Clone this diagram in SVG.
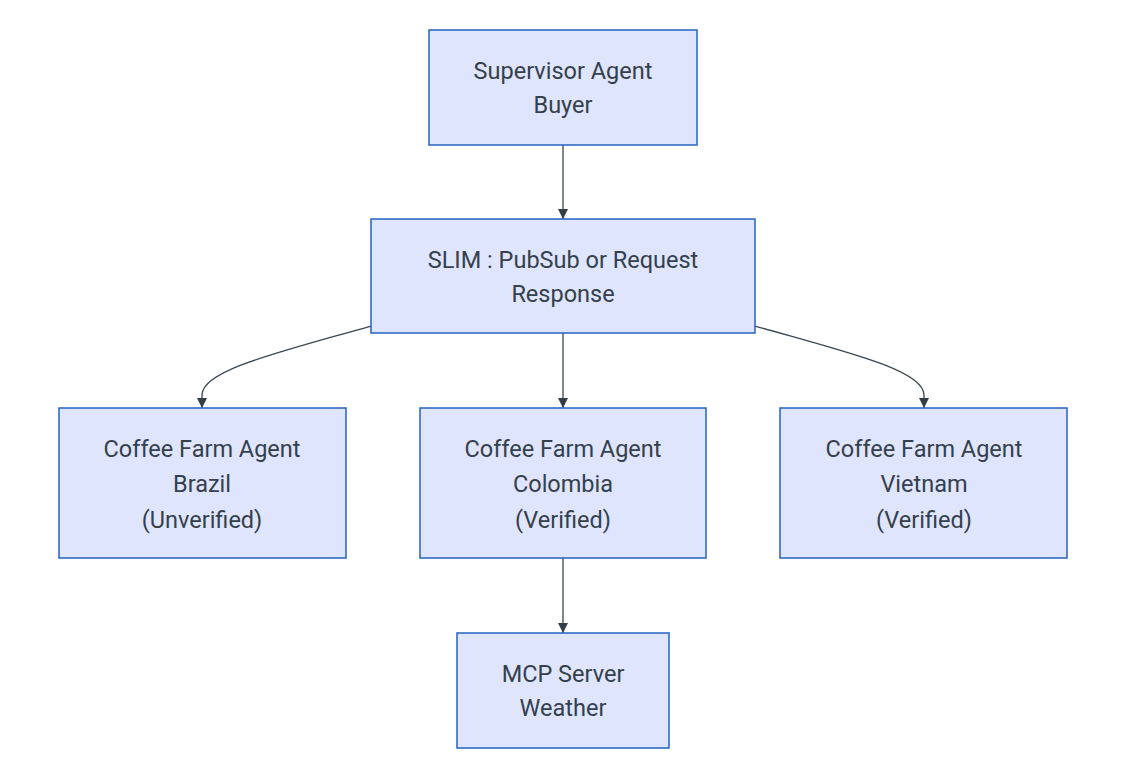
<svg xmlns="http://www.w3.org/2000/svg" width="1125" height="781" viewBox="0 0 1125 781">
<style>
.n rect{fill:#dfe5fc;stroke:#2563c2;stroke-width:1.5}
.n text{font-family:Roboto,"Liberation Sans",sans-serif;font-size:23.5px;fill:#34404c;text-anchor:middle}
.e path{fill:none;stroke:#3a4650;stroke-width:1.3}
</style>
<defs>
<marker id="ah" viewBox="0 0 10 10" refX="10" refY="5" markerWidth="10" markerHeight="10" markerUnits="userSpaceOnUse" orient="auto">
<path d="M0,0 L10,5 L0,10 z" fill="#333d45"/>
</marker>
</defs>
<rect width="1125" height="781" fill="#ffffff"/>
<g class="e">
<path d="M563,145 V219" marker-end="url(#ah)"/>
<path d="M563,333 V408" marker-end="url(#ah)"/>
<path d="M563,558 V633" marker-end="url(#ah)"/>
<path d="M371,326 C280,352 202,370 202,395 L202,408" marker-end="url(#ah)"/>
<path d="M755,326 C846,352 924,370 924,395 L924,408" marker-end="url(#ah)"/>
</g>
<g id="supervisor" class="n"><rect x="429" y="30" width="268" height="115"/><text x="563" y="78.5">Supervisor Agent</text><text x="563" y="113">Buyer</text></g>
<g id="slim" class="n"><rect x="371" y="219" width="384" height="114"/><text x="563" y="267.5">SLIM : PubSub or Request</text><text x="563" y="302">Response</text></g>
<g id="brazil" class="n"><rect x="59" y="408" width="287" height="150"/><text x="202" y="456.5">Coffee Farm Agent</text><text x="202" y="491.5">Brazil</text><text x="202" y="527.5">(Unverified)</text></g>
<g id="colombia" class="n"><rect x="420" y="408" width="286" height="150"/><text x="563" y="456.5">Coffee Farm Agent</text><text x="563" y="491.5">Colombia</text><text x="563" y="527.5">(Verified)</text></g>
<g id="vietnam" class="n"><rect x="780" y="408" width="287" height="150"/><text x="924" y="456.5">Coffee Farm Agent</text><text x="924" y="491.5">Vietnam</text><text x="924" y="527.5">(Verified)</text></g>
<g id="mcp" class="n"><rect x="457" y="633" width="212" height="115"/><text x="563" y="681.5">MCP Server</text><text x="563" y="716">Weather</text></g>
</svg>
